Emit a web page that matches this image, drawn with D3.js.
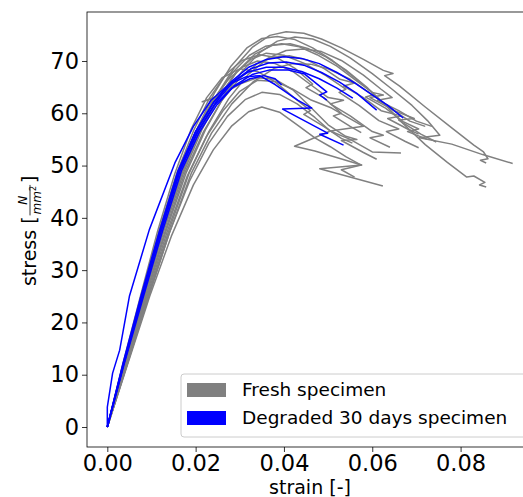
<!DOCTYPE html>
<html>
<head>
<meta charset="utf-8">
<script src="https://cdn.jsdelivr.net/npm/d3@7"></script>
<style>
  body { margin: 0; background: #fff; }
  svg { font-family: "DejaVu Sans", sans-serif; }
</style>
</head>
<body>
<svg id="graf" width="523" height="497"></svg>
<script>
// fresh specimens: [strain, stress]
let fresh01 = [[0,0],[0.0038,12],[0.0081,25],[0.0124,37.5],[0.0167,48.5],[0.0208,56.8],[0.0248,63.5],[0.0288,68.8],[0.0328,72.6],[0.0368,74.9],[0.0405,75.6],[0.0445,75.3],[0.0485,74.2],[0.053,72.5],[0.058,70.3],[0.0625,68.2],[0.0647,67.6],[0.0628,67.2],[0.0662,65.2],[0.072,61.2],[0.078,57.2],[0.083,53.9],[0.0852,52.6],[0.0862,51.3],[0.0845,51.0],[0.0858,50.5]]
let fresh02 = [[0,0],[0.0042,12],[0.0088,25],[0.0133,37.5],[0.0178,48.5],[0.0222,56.8],[0.0264,63.2],[0.0305,68],[0.0345,71.6],[0.0385,73.8],[0.0425,74.6],[0.0465,74.2],[0.0505,72.8],[0.055,70.6],[0.06,67.6],[0.0645,64.6],[0.069,61.5],[0.0725,58.6],[0.0753,55.8],[0.0707,55.3],[0.078,54.1],[0.085,52.1],[0.0918,50.4]]
let fresh03 = [[0,0],[0.004,12],[0.0084,25],[0.0128,37.5],[0.0172,48.5],[0.0214,56.8],[0.0254,63.2],[0.0294,68],[0.0334,71.3],[0.0374,73],[0.0414,73.3],[0.0454,72.4],[0.0495,70.8],[0.054,68.3],[0.059,64.8],[0.063,61.6],[0.0669,58.1],[0.072,54],[0.077,50.6],[0.0814,47.8],[0.083,48],[0.0855,46.8],[0.0843,46.3],[0.0858,45.9]]
let fresh04 = [[0,0],[0.0044,12],[0.0092,25],[0.0139,37.5],[0.0185,48.5],[0.023,56.5],[0.0275,62.8],[0.032,67.5],[0.0365,70.6],[0.0405,72],[0.0445,72.3],[0.0485,71.8],[0.053,70.1],[0.058,67.3],[0.062,64.6],[0.0645,63],[0.0612,62.5],[0.066,60.5],[0.07,58.5],[0.0735,57.5]]
let fresh05 = [[0,0],[0.0039,12],[0.0083,25],[0.0126,37.5],[0.0169,48.5],[0.0211,56.8],[0.0251,63],[0.029,67.6],[0.0325,70.3],[0.036,71.5],[0.04,71.1],[0.0445,69.6],[0.0495,67.2],[0.054,64.6],[0.0525,64],[0.057,61.5],[0.0615,58.6],[0.066,57],[0.0632,56.5],[0.0675,54.6],[0.0705,53.4]]
let fresh06 = [[0,0],[0.0041,12],[0.0086,25],[0.0131,37.5],[0.0175,48.5],[0.0218,56.5],[0.0258,62.3],[0.0298,66.5],[0.0338,69.4],[0.0375,70.7],[0.0412,71],[0.0452,70.2],[0.0492,68.5],[0.0527,66.5],[0.056,65.8],[0.0535,65.2],[0.058,63],[0.062,60.5],[0.0665,59.5],[0.0635,59],[0.068,57],[0.0705,56]]
let fresh07 = [[0,0],[0.0036,12],[0.0078,25],[0.0119,37.5],[0.016,48.5],[0.02,56.5],[0.0238,62.3],[0.0272,66.3],[0.0305,68.8],[0.034,70],[0.038,69.5],[0.042,68],[0.046,65.5],[0.05,63],[0.0535,62.5],[0.0505,61.8],[0.055,59.5],[0.06,56.5],[0.0625,55.8],[0.0595,55.3],[0.064,53.5]]
let fresh08 = [[0,0],[0.0045,12],[0.0094,25],[0.0142,37.5],[0.019,48.5],[0.0236,56.2],[0.0282,61.8],[0.033,66],[0.0378,68.6],[0.042,69.5],[0.046,69.4],[0.05,68.5],[0.055,66.5],[0.06,63.5],[0.065,60.5],[0.0695,59],[0.066,58.7],[0.071,56],[0.0745,54.5]]
let fresh09 = [[0,0],[0.0039,12],[0.0082,25],[0.0125,37.5],[0.0168,48.5],[0.0209,56.8],[0.0248,63.3],[0.0286,68],[0.0322,71.1],[0.0358,72.8],[0.0395,73.3],[0.0435,72.7],[0.0475,71.2],[0.052,69],[0.056,66.5],[0.06,64],[0.0625,63.5],[0.0595,63],[0.064,61],[0.0685,58.5],[0.072,57.5]]
let fresh10 = [[0,0],[0.0045,12],[0.0093,25],[0.014,37],[0.0186,47],[0.023,54.3],[0.0272,59.4],[0.0312,62.6],[0.035,64],[0.039,63.6],[0.043,61.8],[0.047,59.2],[0.0505,56.6],[0.0424,53.7],[0.047,52.8],[0.0576,50.1],[0.0481,49.4],[0.0624,46.1]]
let fresh11 = [[0,0],[0.0043,12],[0.009,25],[0.0136,37.5],[0.0181,48],[0.0224,55.5],[0.0263,60.6],[0.03,64.2],[0.034,66.3],[0.038,66.1],[0.042,64.6],[0.046,62.6],[0.0508,61],[0.058,57.5],[0.0505,56.6],[0.055,55],[0.06,52.6],[0.0665,52.4]]
let fresh12 = [[0,0],[0.0037,12],[0.008,25],[0.0122,37.5],[0.0163,48.5],[0.02,56],[0.0225,60],[0.024,62.8],[0.0215,62.2],[0.026,63.6],[0.03,65.6],[0.034,66.8],[0.038,66.5],[0.042,64.5],[0.046,61.2],[0.05,57.8],[0.054,55.6],[0.0565,55],[0.053,54.8],[0.058,52.5],[0.061,51.2]]
let fresh13 = [[0,0],[0.0046,12],[0.0096,25],[0.0145,36.5],[0.0195,46.3],[0.024,53],[0.0282,57.6],[0.032,60.3],[0.035,61.2],[0.039,60.2],[0.043,57.8],[0.047,55.3],[0.0505,53.6],[0.054,51.7],[0.0575,50.1],[0.053,49.2],[0.056,47.8]]
let fresh14 = [[0,0],[0.0036,12],[0.0077,25],[0.0117,37.5],[0.0157,48.5],[0.0196,56.8],[0.0232,63],[0.0268,67.4],[0.0305,70.1],[0.0345,71.2],[0.0385,70.6],[0.0425,68.6],[0.0465,65.6],[0.045,64.9],[0.049,63],[0.053,60],[0.0512,59.5],[0.055,57.5],[0.0575,56.3]]
let fresh15 = [[0,0],[0.0038,12],[0.008,25],[0.0122,37.5],[0.0163,48.5],[0.0203,57],[0.0242,63.8],[0.028,69],[0.0316,72.5],[0.035,74.3],[0.0385,74.7],[0.0425,74.1],[0.0465,72.5],[0.051,70.1],[0.056,66.8],[0.0605,63.6],[0.0585,63.1],[0.063,61],[0.067,58.4],[0.0705,57],[0.068,56.5],[0.0725,55]]
let fresh16 = [[0,0],[0.0035,12],[0.0075,25],[0.0114,37.5],[0.0153,48.5],[0.019,57],[0.0225,63],[0.026,66.8],[0.03,68.5],[0.034,68],[0.038,66],[0.042,63.2],[0.046,60.5],[0.0445,59.8],[0.049,57.5],[0.053,55.2],[0.0555,54.3]]

// degraded 30 days specimens: [strain, stress]
let degraded01 = [[0,0],[0.0036,12],[0.0078,25],[0.012,37.5],[0.0162,49],[0.02,56.5],[0.024,62],[0.028,66],[0.032,68.8],[0.036,70.3],[0.04,70.8],[0.044,70.5],[0.048,69.5],[0.052,67.8],[0.056,65.8],[0.06,63.5],[0.0635,61.5],[0.067,59.1]]
let degraded02 = [[0,0],[0.0037,12],[0.008,25],[0.0122,37.5],[0.0165,49],[0.0205,56.5],[0.0245,62],[0.0285,66],[0.0325,68.5],[0.0365,69.6],[0.0405,69.8],[0.0445,69.2],[0.0485,67.8],[0.0525,66],[0.0565,63.8],[0.061,60.6]]
let degraded03 = [[0,0],[0.0035,12],[0.0076,25],[0.0118,37.5],[0.016,49],[0.02,56.5],[0.024,62],[0.028,65.8],[0.032,67.9],[0.036,68.8],[0.04,68.8],[0.044,68],[0.048,66.6],[0.052,64.8],[0.0556,62.9]]
let degraded04 = [[0,0],[0.0038,12],[0.0082,25],[0.0125,37.5],[0.0168,49],[0.0208,56.3],[0.0248,61.6],[0.0288,65.3],[0.0328,67.4],[0.0368,68.3],[0.0408,68.3],[0.0447,67.5],[0.0497,64.1],[0.0481,63.5],[0.0497,62.5]]
let degraded05 = [[0,0],[0,3.8],[0.0012,10.3],[0.0028,14.7],[0.005,25],[0.0095,37.7],[0.0153,50.5],[0.0195,57.5],[0.0235,62.5],[0.0275,65.5],[0.0315,67],[0.0345,67.2],[0.038,65.5],[0.0431,62.5],[0.0463,61],[0.0397,60.8],[0.0499,56.2],[0.0481,56],[0.0535,53.9]]
let degraded06 = [[0,0],[0.0037,12],[0.0079,25],[0.0121,37.5],[0.0163,49],[0.0203,56.3],[0.0243,61.6],[0.0283,64.9],[0.0323,66.6],[0.0355,67.2],[0.038,66.6],[0.0395,65.4]]

let freshCurves = [fresh01, fresh02, fresh03, fresh04, fresh05, fresh06, fresh07, fresh08,
                   fresh09, fresh10, fresh11, fresh12, fresh13, fresh14, fresh15, fresh16]
let degradedCurves = [degraded01, degraded02, degraded03, degraded04, degraded05, degraded06]

let xTicks = [0, 0.02, 0.04, 0.06, 0.08]
let yTicks = [0, 10, 20, 30, 40, 50, 60, 70]
let legendLabels = ['Fresh specimen', 'Degraded 30 days specimen']
let colores = ['#808080', '#0000ff']

function graficar() {
  let left = 87, right = 533, top = 12, bottom = 447

  let x = d3.scaleLinear()
            .domain([-0.0046, 0.0964])
            .range([left, right])
  let y = d3.scaleLinear()
            .domain([-3.825, 79.37])
            .range([bottom, top])

  let svg = d3.select('#graf')

  let linea = d3.line()
                .x(d => x(d[0]))
                .y(d => y(d[1]))

  let plot = svg.append('g')

  plot.selectAll('path.fresh')
      .data(freshCurves)
      .enter().append('path')
      .attr('class', 'fresh')
      .attr('d', linea)
      .attr('fill', 'none')
      .attr('stroke', colores[0])
      .attr('stroke-width', 1.5)
      .attr('stroke-linejoin', 'round')

  plot.selectAll('path.degraded')
      .data(degradedCurves)
      .enter().append('path')
      .attr('class', 'degraded')
      .attr('d', linea)
      .attr('fill', 'none')
      .attr('stroke', colores[1])
      .attr('stroke-width', 1.5)
      .attr('stroke-linejoin', 'round')

  // frame
  svg.append('rect')
     .attr('x', left).attr('y', top)
     .attr('width', right - left).attr('height', bottom - top)
     .attr('fill', 'none')
     .attr('stroke', '#000')
     .attr('stroke-width', 0.8)

  let xAxis = svg.append('g')
                 .attr('transform', `translate(0, ${bottom})`)
                 .call(d3.axisBottom(x).tickValues(xTicks).tickFormat(d3.format('.2f'))
                        .tickSize(5).tickSizeOuter(0).tickPadding(3))
  let yAxis = svg.append('g')
                 .attr('transform', `translate(${left}, 0)`)
                 .call(d3.axisLeft(y).tickValues(yTicks).tickFormat(d3.format('d'))
                        .tickSize(5).tickSizeOuter(0).tickPadding(3))

  ;[xAxis, yAxis].forEach(a => {
    a.select('.domain').remove()
    a.selectAll('line').attr('stroke', '#000').attr('stroke-width', 0.8)
    a.selectAll('text')
     .attr('fill', '#000')
     .style('font-family', '"DejaVu Sans", sans-serif')
     .style('font-size', '22.5px')
  })

  // x label
  svg.append('text')
     .attr('x', 310).attr('y', 493.5)
     .attr('text-anchor', 'middle')
     .style('font-size', '19px')
     .text('strain [-]')

  // y label with the N/mm² fraction
  let yl = svg.append('g')
  let t1 = yl.append('text').attr('x', 0).attr('y', 0)
             .style('font-size', '19px').text('stress [')
  let w1 = t1.node().getComputedTextLength()
  let num = yl.append('text').attr('y', -9)
              .style('font-size', '12px').style('font-style', 'italic')
              .attr('text-anchor', 'middle').text('N')
  let den = yl.append('text').attr('y', 5)
              .style('font-size', '12px').style('font-style', 'italic')
              .attr('text-anchor', 'middle')
  den.append('tspan').text('mm')
  den.append('tspan').attr('dy', -5).style('font-size', '8px').style('font-style', 'normal').text('2')
  let wden = den.node().getComputedTextLength()
  let fx = w1 + 2 + wden / 2
  num.attr('x', fx)
  den.attr('x', fx)
  yl.append('line')
    .attr('x1', w1 + 1).attr('x2', w1 + wden + 3)
    .attr('y1', -6).attr('y2', -6)
    .attr('stroke', '#000').attr('stroke-width', 0.8)
  yl.append('text').attr('x', w1 + wden + 5).attr('y', 0)
    .style('font-size', '19px').text(']')
  let total = w1 + wden + 5 + 7
  yl.attr('transform', `translate(36, ${231 + total / 2}) rotate(-90)`)

  // legend
  let leg = svg.append('g')
  leg.append('rect')
     .attr('x', 181).attr('y', 374)
     .attr('width', 360).attr('height', 63)
     .attr('rx', 3)
     .attr('fill', '#fff').attr('fill-opacity', 0.8)
     .attr('stroke', '#cccccc').attr('stroke-width', 1)
  let items = leg.selectAll('g.item')
                 .data(legendLabels)
                 .enter().append('g')
                 .attr('class', 'item')
                 .attr('transform', (d, i) => `translate(0, ${i * 28})`)
  items.append('rect')
       .attr('x', 187).attr('y', 383)
       .attr('width', 39).attr('height', 14)
       .attr('fill', (d, i) => colores[i])
  items.append('text')
       .attr('x', 242).attr('y', 396)
       .style('font-size', '18.5px')
       .text(d => d)
}

graficar()
</script>
</body>
</html>
